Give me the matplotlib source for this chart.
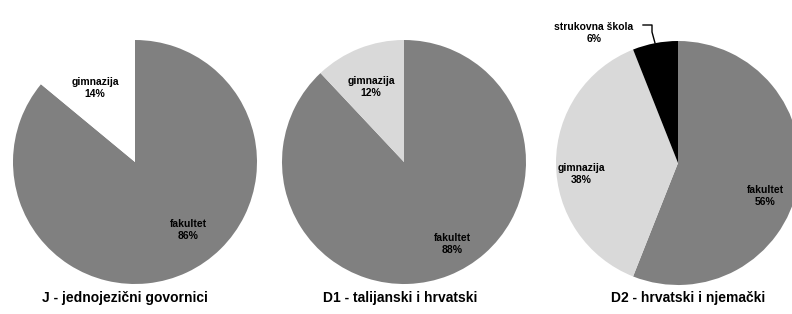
import matplotlib
matplotlib.use('Agg')
import matplotlib.pyplot as plt

# data
titles = ['J - jednojezični govornici', 'D1 - talijanski i hrvatski', 'D2 - hrvatski i njemački']
cat_j = ['fakultet', 'gimnazija']
val_j = [86, 14]
cat_d1 = ['fakultet', 'gimnazija']
val_d1 = [88, 12]
cat_d2 = ['fakultet', 'gimnazija', 'strukovna škola']
val_d2 = [56, 38, 6]

colors_j = ['#808080', '#ffffff']
colors_d1 = ['#808080', '#d9d9d9']
colors_d2 = ['#808080', '#d9d9d9', '#000000']

W, H = 792, 314
fam = ['Liberation Sans Narrow', 'Liberation Sans', 'DejaVu Sans']

fig = plt.figure(figsize=(W / 100, H / 100), dpi=100)
ax = fig.add_axes([0, 0, 1, 1])
ax.set_xlim(0, W)
ax.set_ylim(0, H)
ax.set_aspect('equal')
ax.axis('off')

# layout in pixels (from top)
centers = [(135, 162), (404, 162), (678, 163)]
radius = 122
label_pos = [
    [(188, 230), (95, 88)],
    [(452, 244), (371, 87)],
    [(765, 196), (581, 174), (594, 33)],
]
title_pos = [(125, 298), (400, 298), (688, 298)]

pies = [(cat_j, val_j, colors_j), (cat_d1, val_d1, colors_d1), (cat_d2, val_d2, colors_d2)]
for i, (cats, vals, cols) in enumerate(pies):
    cx, cy = centers[i]
    ax.pie(vals, colors=cols, startangle=90, counterclock=False,
           center=(cx, H - cy), radius=radius, wedgeprops=dict(linewidth=0))
    for c, v, (lx, ly) in zip(cats, vals, label_pos[i]):
        ax.text(lx, H - ly, '{}\n{}%'.format(c, v), ha='center', va='center',
                fontsize=7.5, fontweight='bold', family=fam, linespacing=1.3)
    tx, ty = title_pos[i]
    ax.text(tx, H - ty, titles[i], ha='center', va='center', fontsize=10,
            fontweight='bold', family=fam)

# leader line for the small slice
ax.plot([643, 652, 652, 655], [H - 25, H - 25, H - 32, H - 43], color='black', lw=1)

ax.set_xlim(0, W)
ax.set_ylim(0, H)
fig.savefig('out.png', dpi=100)
